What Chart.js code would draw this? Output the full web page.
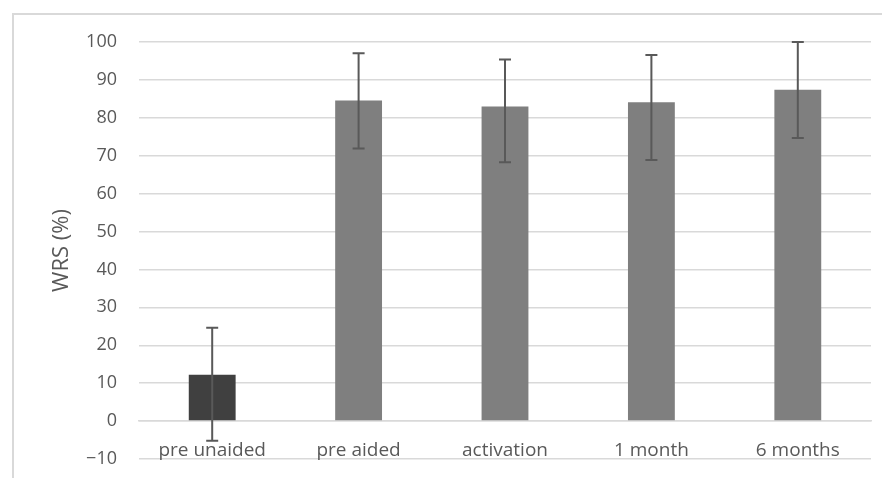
<!DOCTYPE html>
<html>
<head>
<meta charset="utf-8">
<script src="https://cdn.jsdelivr.net/npm/chart.js@4"></script>
<style>
  html, body { margin: 0; padding: 0; background: #fff; overflow: hidden; }
  #frame { position: absolute; left: 12px; top: 13px; width: 900px; height: 500px; border: 2px solid #d9d9d9; }
  #wrap { position: absolute; left: 0; top: 0; width: 882px; height: 478px; }
</style>
</head>
<body>
<div id="frame"></div>
<div id="wrap"><canvas id="grafico" width="882" height="478"></canvas></div>
<script>
const categorias = ['pre unaided', 'pre aided', 'activation', '1 month', '6 months'];
const medias = [12.2, 84.6, 83.0, 84.1, 87.4];
const errorSup = [24.6, 97.0, 95.4, 96.6, 100.0];
const errorInf = [-5.2, 71.9, 68.3, 68.9, 74.7];
const colores = ['#404040', '#7f7f7f', '#7f7f7f', '#7f7f7f', '#7f7f7f'];

const fuente = "'Open Sans', 'Liberation Sans', sans-serif";

// barras de error dibujadas con las escalas del grafico
const barrasError = {
  id: 'barrasError',
  afterDatasetsDraw(chart) {
    const { ctx, scales: { x, y } } = chart;
    ctx.save();
    ctx.strokeStyle = '#595959';
    ctx.lineWidth = 2;
    categorias.forEach((c, i) => {
      const px = x.getPixelForValue(i);
      const yTop = y.getPixelForValue(errorSup[i]);
      const yBot = y.getPixelForValue(errorInf[i]);
      ctx.beginPath();
      ctx.moveTo(px, yTop); ctx.lineTo(px, yBot);
      ctx.moveTo(px - 6, yTop); ctx.lineTo(px + 6, yTop);
      ctx.moveTo(px - 6, yBot); ctx.lineTo(px + 6, yBot);
      ctx.stroke();
    });
    ctx.restore();
  }
};

new Chart(document.getElementById('grafico').getContext('2d'), {
  type: 'bar',
  data: {
    labels: categorias,
    datasets: [{
      label: 'WRS',
      data: medias,
      backgroundColor: colores,
      borderWidth: 0,
      barPercentage: 0.32,
      categoryPercentage: 1
    }]
  },
  options: {
    responsive: false,
    animation: false,
    devicePixelRatio: 1,
    layout: { padding: { top: 42, bottom: 19, right: 11, left: 0 } },
    plugins: { legend: { display: false }, tooltip: { enabled: false } },
    scales: {
      x: {
        position: { y: 0 },
        afterFit: s => { s.height = 0; },
        grid: { display: false },
        border: { display: true, color: '#d9d9d9', width: 1.5 },
        ticks: { color: '#595959', padding: 10, autoSkip: false, maxRotation: 0, font: { family: fuente, size: 19 } }
      },
      y: {
        min: -10,
        max: 100,
        afterFit: s => { s.width = 139; s.paddingTop = 0; s.paddingBottom = 0; },
        grid: { color: '#d9d9d9', lineWidth: 1.5, drawTicks: false },
        border: { display: false },
        ticks: {
          stepSize: 10,
          autoSkip: false,
          padding: 22,
          color: '#595959',
          font: { family: fuente, size: 18 },
          callback: v => (v < 0 ? '\u2212' + Math.abs(v) : String(v))
        },
        title: {
          display: true,
          text: 'WRS (%)',
          color: '#595959',
          font: { family: fuente, size: 22 },
          padding: { top: 49, bottom: 0 }
        }
      }
    }
  },
  plugins: [barrasError]
});
</script>
</body>
</html>
